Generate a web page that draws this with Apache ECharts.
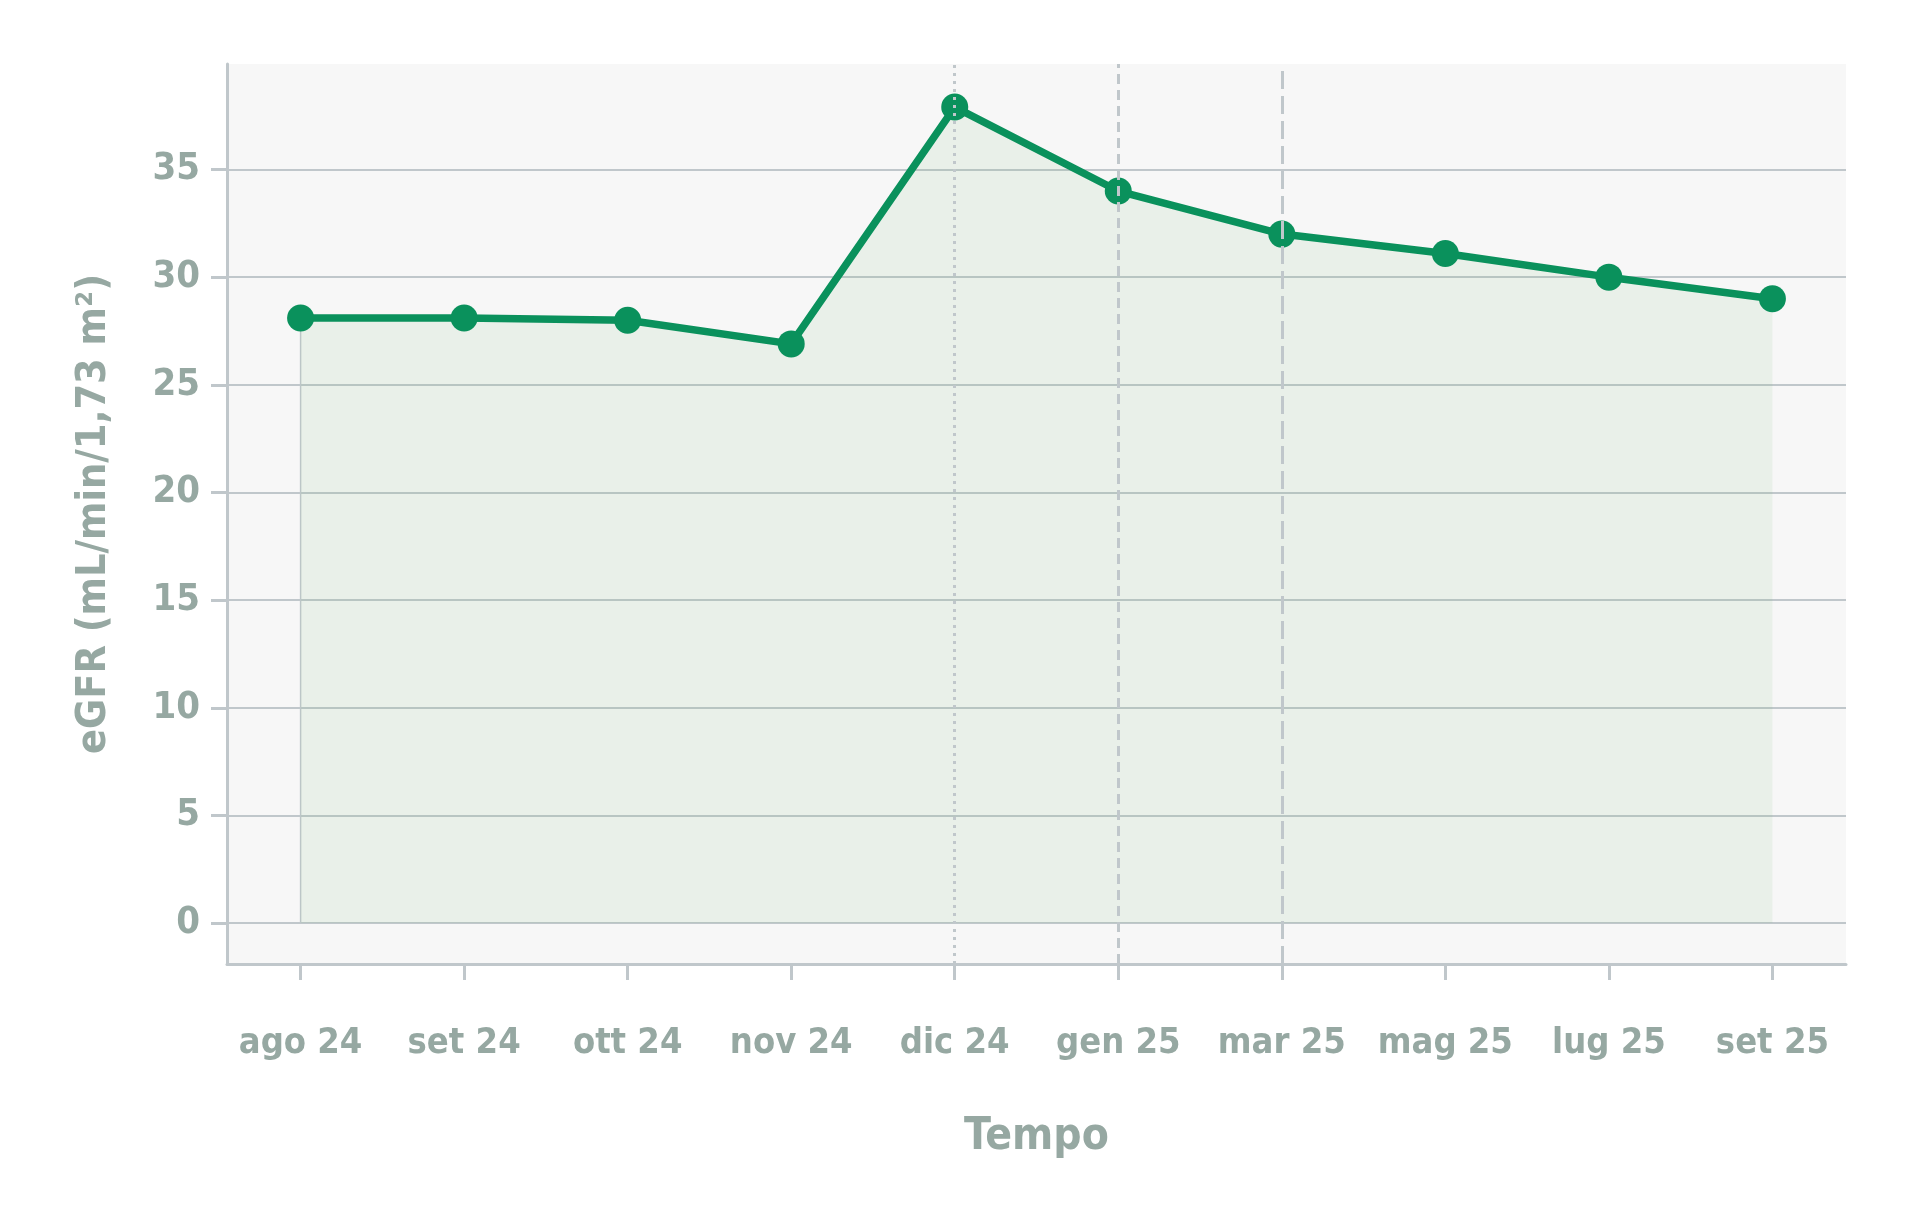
<!DOCTYPE html>
<html><head><meta charset="utf-8">
<script src="https://cdn.jsdelivr.net/npm/echarts@6/dist/echarts.min.js"></script>
<style>html,body{margin:0;padding:0;background:#fff}#c{width:1921px;height:1228px}</style>
</head><body><div id="c"></div>
<script>
const categories = ['ago 24','set 24','ott 24','nov 24','dic 24','gen 25','mar 25','mag 25','lug 25','set 25'];
const egfr = [28.1, 28.1, 28.0, 26.9, 37.9, 34.0, 32.0, 31.1, 30.0, 29.0];
const yTicks = [0, 5, 10, 15, 20, 25, 30, 35];
const markedIndices = [4, 5, 6];
const markedDash = [[3, 5], [10, 6], [18, 7]];

const FONT = "'Liberation Sans Narrow', 'DejaVu Sans Condensed', 'Roboto Condensed', sans-serif";
const TXT = '#96a8a2';
const AX = '#c0c7cb';
const GREEN = '#0a915c';
const xIdx = categories.map((_, i) => i);
const pts = egfr.map((v, i) => [i, v]);

const chart = echarts.init(document.getElementById('c'), null, {renderer: 'canvas'});
chart.setOption({
  animation: false,
  backgroundColor: '#ffffff',
  grid: {left: 227, right: 75, top: 64, bottom: 264, show: true, backgroundColor: '#f7f7f7', borderWidth: 0},
  xAxis: {
    type: 'value', min: -0.45, max: 9.45,
    name: 'Tempo', nameLocation: 'middle', nameGap: 152,
    nameTextStyle: {fontFamily: FONT, fontWeight: 'bold', fontSize: 44, color: TXT},
    axisLine: {show: true, onZero: false, lineStyle: {color: AX, width: 3}},
    axisTick: {show: true, length: 16, customValues: xIdx, lineStyle: {color: AX, width: 3}},
    axisLabel: {customValues: xIdx, formatter: v => categories[Math.round(v)], margin: 62,
      fontFamily: FONT, fontWeight: 'bold', fontSize: 36, color: TXT},
    splitLine: {show: false}
  },
  yAxis: {
    type: 'value', min: -1.9, max: 39.9,
    name: 'eGFR (mL/min/1,73 m²)', nameLocation: 'middle', nameGap: 112, nameRotate: 90,
    nameTextStyle: {fontFamily: FONT, fontWeight: 'bold', fontSize: 41, color: TXT},
    axisLine: {show: true, onZero: false, lineStyle: {color: AX, width: 3}},
    axisTick: {show: true, length: 16, customValues: yTicks, lineStyle: {color: AX, width: 3}},
    axisLabel: {customValues: yTicks, margin: 27, fontFamily: FONT, fontWeight: 'bold', fontSize: 38, color: TXT},
    splitLine: {show: true, customValues: yTicks, lineStyle: {color: AX, width: 2}}
  },
  series: [
    {
      type: 'line', z: 1, silent: true, symbol: 'none',
      data: [[0, 0], [0, egfr[0]]],
      lineStyle: {color: AX, width: 1.5}
    },
    {
      type: 'line', z: 3, data: pts,
      symbol: 'circle', symbolSize: 27,
      itemStyle: {color: GREEN},
      lineStyle: {color: GREEN, width: 7.5},
      areaStyle: {color: 'rgba(110,180,110,0.14)', origin: 0}
    },
    {
      type: 'line', z: 5, data: [], silent: true,
      markLine: {
        silent: true, symbol: 'none', label: {show: false},
        data: markedIndices.map((ix, k) => ({xAxis: ix, lineStyle: {color: AX, width: 3, type: markedDash[k]}}))
      }
    }
  ]
});
</script></body></html>
